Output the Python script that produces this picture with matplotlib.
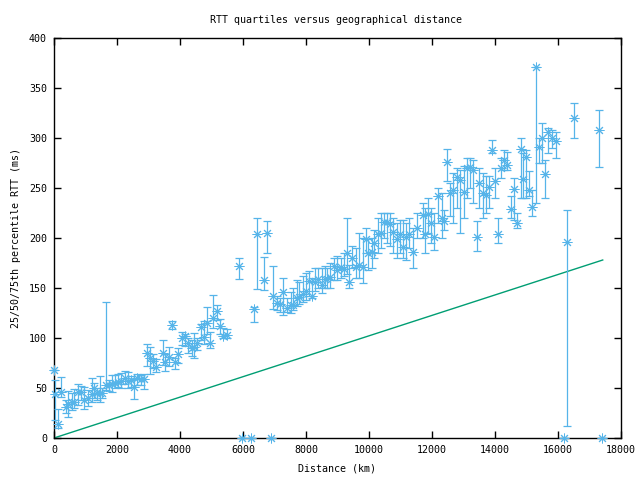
import matplotlib
matplotlib.use('Agg')
import matplotlib.pyplot as plt
import numpy as np

# distance (km) and 25/50/75th percentile RTT (ms)
distance = [
    0, 30, 140, 220, 370, 450, 560, 640, 760, 860, 950, 1070, 1200, 1260,
    1360, 1460, 1520, 1650, 1750, 1830, 1940, 2020, 2130, 2250, 2360, 2450,
    2540, 2650, 2750, 2850, 2940, 3050, 3150, 3240, 3450, 3520, 3650, 3750,
    3840, 3940, 4070, 4160, 4260, 4370, 4450, 4530, 4660, 4760, 4850, 4950,
    5050, 5160, 5270, 5370, 5480, 5880, 5980, 6250, 6350, 6450, 6670, 6770,
    6880, 6960, 7070, 7170, 7280, 7390, 7510, 7600, 7700, 7790, 7900, 8000,
    8110, 8180, 8300, 8390, 8500, 8600, 8680, 8760, 8890, 8990, 9100, 9210,
    9290, 9380, 9470, 9590, 9690, 9800, 9900, 9980, 10090, 10170, 10270,
    10370, 10480, 10560, 10670, 10770, 10900, 10980, 11090, 11170, 11280,
    11390, 11510, 11700, 11780, 11880, 11970, 12070, 12200, 12310, 12390,
    12490, 12570, 12680, 12800, 12890, 13000, 13100, 13210, 13310, 13420,
    13500, 13610, 13720, 13810, 13900, 14000, 14110, 14190, 14300, 14390,
    14500, 14610, 14710, 14820, 14900, 14990, 15090, 15180, 15300, 15400,
    15500, 15600, 15690, 15800, 15930, 16190, 16300, 16520, 17310, 17400,
]
rtt_median = [
    68, 44, 14, 46, 31, 34, 36, 36, 46, 46, 38, 40, 44, 50,
    45, 45, 45, 53, 53, 54, 55, 56, 57, 60, 57, 58,
    51, 60, 59, 59, 85, 80, 77, 71, 85, 76, 81, 113,
    76, 84, 100, 102, 95, 90, 91, 95, 111, 101, 115, 95,
    120, 127, 112, 102, 103, 172, 0, 0, 129, 204, 158, 205,
    0, 142, 135, 134, 146, 130, 133, 133, 140, 141, 144, 147,
    157, 142, 156, 159, 153, 159, 159, 161, 172, 168, 171, 169,
    185, 156, 180, 171, 173, 171, 199, 185, 186, 195, 204,
    205, 216, 216, 214, 206, 199, 204, 191, 201, 204,
    186, 210, 223, 204, 224, 215, 201, 242, 220, 217,
    276, 245, 248, 261, 258, 246, 270, 271, 268, 201,
    255, 245, 243, 251, 288, 257, 204, 270, 278, 273,
    229, 249, 215, 289, 259, 281, 248, 231, 371, 291,
    300, 264, 306, 300, 297, 0, 196, 320, 308, 0,
]
rtt_q25 = [
    68, 18, 10, 41, 25, 21, 28, 30, 33, 38, 29, 32, 36, 40,
    38, 36, 40, 48, 47, 46, 50, 51, 50, 54, 50, 51,
    39, 53, 53, 49, 72, 64, 70, 66, 73, 67, 72, 109,
    69, 75, 93, 92, 85, 82, 80, 88, 98, 94, 104, 90,
    110, 118, 104, 100, 100, 159, 0, 0, 116, 149, 148, 185,
    0, 129, 128, 126, 123, 126, 125, 128, 132, 134, 136, 138,
    142, 140, 147, 150, 145, 150, 150, 150, 158, 158, 160, 162,
    164, 150, 170, 160, 160, 155, 185, 168, 170, 180, 185,
    190, 200, 195, 192, 185, 180, 185, 180, 178, 190,
    170, 200, 200, 185, 205, 195, 188, 215, 200, 208,
    257, 222, 215, 230, 205, 220, 240, 250, 235, 187,
    230, 220, 225, 230, 285, 240, 195, 260, 268, 268,
    220, 218, 210, 240, 240, 240, 242, 222, 235, 275,
    275, 240, 285, 290, 280, 0, 12, 300, 271, 0,
]
rtt_q75 = [
    68, 58, 29, 61, 38, 47, 45, 49, 54, 52, 51, 48, 60, 55,
    50, 62, 50, 136, 58, 63, 63, 64, 65, 67, 66, 62,
    59, 64, 63, 64, 94, 91, 84, 79, 98, 84, 91, 117,
    80, 90, 106, 104, 100, 98, 105, 100, 114, 117, 131, 106,
    143, 133, 119, 110, 109, 180, 0, 0, 131, 220, 181, 217,
    0, 172, 142, 140, 160, 140, 146, 150, 158, 156, 162, 165,
    167, 160, 170, 170, 170, 172, 170, 175, 180, 182, 180, 185,
    220, 173, 192, 190, 205, 200, 210, 199, 200, 208, 220,
    225, 225, 225, 225, 220, 215, 218, 218, 215, 220,
    210, 225, 235, 230, 240, 230, 225, 250, 245, 228,
    289, 255, 265, 270, 268, 272, 280, 280, 278, 217,
    270, 265, 262, 262, 298, 270, 220, 280, 288, 286,
    242, 260, 225, 300, 285, 288, 267, 248, 371, 300,
    315, 278, 310, 308, 306, 0, 228, 335, 328, 0,
]

# lower bound line (theoretical minimum RTT)
bound_distance = [0, 17420]
bound_rtt = [0, 178]

plt.rcParams['font.family'] = ['DejaVu Sans Mono']
plt.rcParams['font.size'] = 7.2

fig = plt.figure(figsize=(6.4, 4.8), dpi=100)
ax = fig.add_axes([54 / 640, 42 / 480, 567 / 640, 400 / 480])

med = np.array(rtt_median)
yerr = [med - np.array(rtt_q25), np.array(rtt_q75) - med]
ax.errorbar(distance, rtt_median, yerr=yerr, fmt='none', ecolor='#56b4e9',
            elinewidth=0.9, capsize=2.8, capthick=0.9, clip_on=False, zorder=3)
ax.plot(distance, rtt_median, ls='none', marker=(8, 2, 0), ms=7, mew=0.7,
        color='#56b4e9', clip_on=False, zorder=4)
ax.plot(bound_distance, bound_rtt, color='#009e73', lw=1, zorder=2)

ax.set_xlim(0, 18000)
ax.set_ylim(0, 400)
ax.set_xticks(np.arange(0, 18001, 2000))
ax.set_yticks(np.arange(0, 401, 50))
ax.tick_params(direction='in', length=5, width=1, top=True, right=True,
               pad=5, labelsize=7.2)
for s in ax.spines.values():
    s.set_linewidth(1)

ax.set_xlabel('Distance (km)', labelpad=6)
ax.set_ylabel('25/50/75th percentile RTT (ms)', labelpad=6)
fig.text(336 / 640, 1 - 20 / 480, 'RTT quartiles versus geographical distance',
         ha='center', va='center', fontsize=7.2)

fig.savefig('out.png', dpi=100, facecolor='white')
